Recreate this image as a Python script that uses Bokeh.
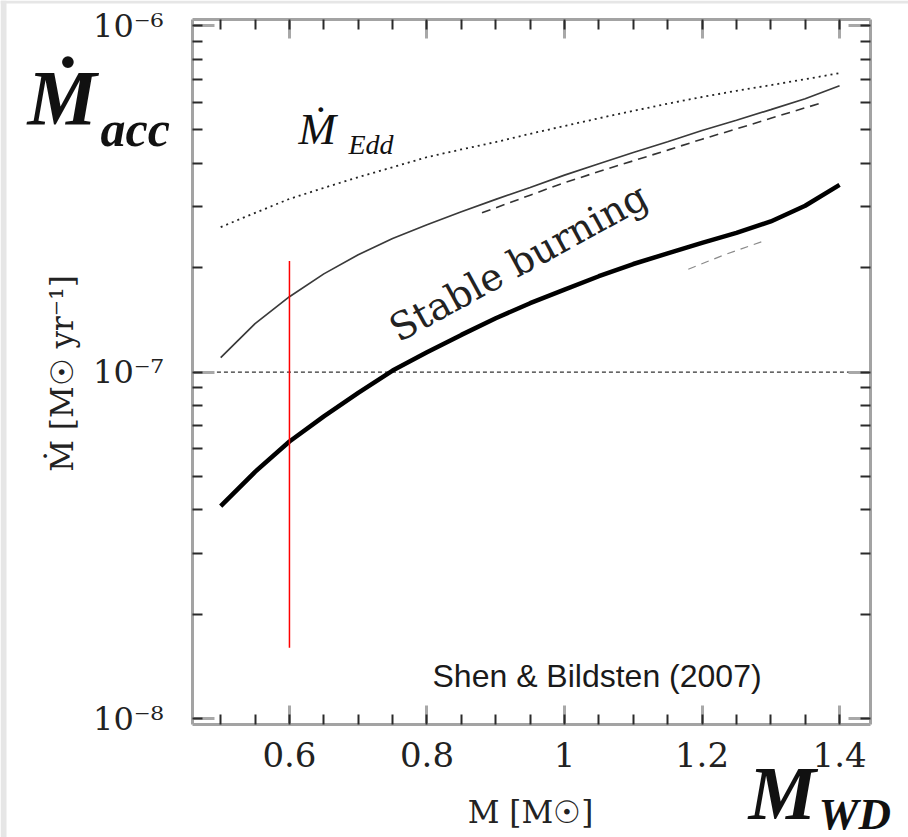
import math
from bokeh.plotting import figure
from bokeh.models import (LogAxis, LinearAxis, LogTicker, SingleIntervalTicker,
                          CustomJSTickFormatter, Label, Range1d, BoxAnnotation)
from bokeh.embed import file_html
from bokeh.resources import INLINE

# ---------------- data ----------------
mass = [0.50, 0.55, 0.60, 0.65, 0.70, 0.75, 0.80, 0.85, 0.90, 0.95,
        1.00, 1.05, 1.10, 1.15, 1.20, 1.25, 1.30, 1.35, 1.40]

# Eddington accretion rate (dotted)
mdot_edd = [2.62e-7, 2.88e-7, 3.16e-7, 3.40e-7, 3.65e-7, 3.90e-7, 4.17e-7, 4.39e-7,
            4.61e-7, 4.87e-7, 5.13e-7, 5.40e-7, 5.67e-7, 5.95e-7, 6.22e-7, 6.48e-7,
            6.73e-7, 7.00e-7, 7.29e-7]

# upper boundary of stable burning (thin solid)
mdot_upper = [1.10e-7, 1.38e-7, 1.65e-7, 1.92e-7, 2.18e-7, 2.43e-7, 2.66e-7, 2.90e-7,
              3.15e-7, 3.41e-7, 3.70e-7, 3.99e-7, 4.30e-7, 4.62e-7, 4.98e-7, 5.33e-7,
              5.72e-7, 6.15e-7, 6.70e-7]

# lower boundary of stable burning (thick solid)
mdot_lower = [0.41e-7, 0.515e-7, 0.63e-7, 0.745e-7, 0.87e-7, 1.01e-7, 1.14e-7, 1.28e-7,
              1.43e-7, 1.58e-7, 1.73e-7, 1.89e-7, 2.05e-7, 2.20e-7, 2.36e-7, 2.52e-7,
              2.72e-7, 3.02e-7, 3.47e-7]

# dashed curve just below the upper boundary
mass_dash = [0.88, 0.95, 1.00, 1.05, 1.10, 1.15, 1.20, 1.25, 1.30, 1.37]
mdot_dash = [2.88e-7, 3.24e-7, 3.52e-7, 3.79e-7, 4.07e-7, 4.37e-7, 4.70e-7, 5.03e-7,
             5.40e-7, 5.95e-7]

# faint dashed fragment below the thick curve
mass_faint = [1.18, 1.23, 1.29]
mdot_faint = [1.98e-7, 2.17e-7, 2.39e-7]

# red marker at M_WD = 0.6
mass_red = [0.6, 0.6]
mdot_red = [2.09e-7, 1.6e-8]

ref_rate = 1e-7

# axis box (data limits of the drawn frame)
x_lo, x_hi = 0.459, 1.445
y_lo, y_hi = 0.961e-8, 1.041e-6

# ---------------- canvas geometry ----------------
W, H = 908, 837
BOX_L, BOX_R, BOX_T, BOX_B = 192, 870, 19, 724   # where the box sits on the canvas
kx = (x_hi - x_lo) / (BOX_R - BOX_L)
ky = (math.log10(y_hi) - math.log10(y_lo)) / (BOX_B - BOX_T)
X0 = x_lo - BOX_L * kx
X1 = x_hi + (W - BOX_R) * kx
Y1 = 10 ** (math.log10(y_hi) + BOX_T * ky)
Y0 = 10 ** (math.log10(y_lo) - (H - BOX_B) * ky)


def at(px, py):
    """canvas pixel -> data coordinates (for text placement)"""
    return X0 + px * kx, 10 ** (math.log10(Y1) - py * ky)


p = figure(width=W, height=H, x_range=Range1d(X0, X1), y_range=Range1d(Y0, Y1),
           y_axis_type="log", x_axis_location=None, y_axis_location=None,
           output_backend="svg", toolbar_location=None, min_border=0)
p.xgrid.visible = False
p.ygrid.visible = False
p.outline_line_color = None
p.background_fill_color = "white"
p.border_fill_color = "white"

# light grey page edge seen on the left and top of the reference
p.add_layout(BoxAnnotation(left=X0, right=at(6, 0)[0], bottom=Y0, top=Y1,
                           fill_color="#e6e6e6", fill_alpha=1, line_color=None,
                           level="underlay"))
p.add_layout(BoxAnnotation(left=X0, right=X1, bottom=at(0, 3)[1], top=Y1,
                           fill_color="#e6e6e6", fill_alpha=1, line_color=None,
                           level="underlay"))

SUP_JS = r"""
const e = Math.round(Math.log10(tick));
const m = {"-": "\u207b", "0": "\u2070", "1": "\u00b9", "2": "\u00b2", "3": "\u00b3",
           "4": "\u2074", "5": "\u2075", "6": "\u2076", "7": "\u2077", "8": "\u2078", "9": "\u2079"};
return "10" + String(e).split("").map(c => m[c]).join("");
"""
X_JS = "return (Math.round(tick*10)/10).toString();"
EMPTY_JS = "return '';"


def style_axis(ax, major_len):
    ax.axis_line_color = "#a3a3a3"
    ax.axis_line_width = 3
    ax.major_tick_in = major_len
    ax.major_tick_out = 0
    ax.minor_tick_in = 10
    ax.minor_tick_out = 0
    ax.major_tick_line_color = "#a8a8a8"
    ax.major_tick_line_width = 3
    ax.minor_tick_line_color = "#2a2a2a"
    ax.minor_tick_line_width = 2


# left axis
yax = LogAxis(ticker=LogTicker(num_minor_ticks=10), formatter=CustomJSTickFormatter(code=SUP_JS),
              fixed_location=x_lo, bounds=(y_lo, y_hi))
style_axis(yax, 22)
yax.major_label_text_font = "DejaVu Serif"
yax.major_label_text_font_size = "32px"
yax.major_label_text_color = "#222222"
yax.major_label_standoff = 29
p.add_layout(yax, "left")

# right axis (ticks only)
rax = LogAxis(ticker=LogTicker(num_minor_ticks=10), formatter=CustomJSTickFormatter(code=EMPTY_JS),
              fixed_location=x_hi, bounds=(y_lo, y_hi), major_label_text_font_size="0px")
style_axis(rax, 22)
p.add_layout(rax, "right")

# bottom axis
xax = LinearAxis(ticker=SingleIntervalTicker(interval=0.2, num_minor_ticks=4),
                 formatter=CustomJSTickFormatter(code=X_JS),
                 fixed_location=y_lo, bounds=(x_lo, x_hi))
style_axis(xax, 19)
xax.major_label_text_font = "DejaVu Serif"
xax.major_label_text_font_size = "34px"
xax.major_label_text_color = "#222222"
xax.major_label_standoff = 17
p.add_layout(xax, "below")

# top axis (ticks only)
tax = LinearAxis(ticker=SingleIntervalTicker(interval=0.2, num_minor_ticks=4),
                 formatter=CustomJSTickFormatter(code=EMPTY_JS),
                 fixed_location=y_hi, bounds=(x_lo, x_hi), major_label_text_font_size="0px")
style_axis(tax, 19)
p.add_layout(tax, "above")

# ---------------- curves ----------------
p.line([x_lo + 0.005, x_hi - 0.005], [ref_rate, ref_rate], line_color="#333333",
       line_width=1.2, line_dash="4 3")

p.line(mass, mdot_edd, line_color="#222222", line_width=1.8, line_dash="2 4")
p.line(mass, mdot_upper, line_color="#3a3a3a", line_width=1.7)
p.line(mass_dash, mdot_dash, line_color="#333333", line_width=1.6, line_dash="9 6")
p.line(mass, mdot_lower, line_color="black", line_width=4.5)
p.line(mass_faint, mdot_faint, line_color="#8a8a8a", line_width=1.2, line_dash="8 6")
p.line(mass_red, mdot_red, line_color="red", line_width=1.5)


# ---------------- texts ----------------
def label(text, px, py, size, font="DejaVu Serif", style="normal", align="left",
          angle=0.0, color="#111111"):
    x, y = at(px, py)
    p.add_layout(Label(x=x, y=y, text=text, angle=angle, text_align=align,
                       text_baseline="middle", text_font=font, text_font_style=style,
                       text_font_size=size, text_color=color))


# axis titles
label("Ṁ [M☉ yr⁻¹]", 61, 373, "31px", align="center", angle=math.pi / 2, color="#222222")
label("M [M☉]", 530, 811, "31px", align="center", color="#222222")

# in-plot annotations
label("Stable burning", 518, 262, "38px", align="center", angle=0.50, color="#222222")
label("Ṁ", 298, 128, "45px", font="Liberation Serif", style="italic")
label("Edd", 348, 144, "28px", font="Liberation Serif", style="italic")
label("Shen & Bildsten (2007)", 432, 675, "32px", font="Liberation Sans", color="#1a1a1a")

# big slide labels
label("Ṁ", 27, 97, "78px", font="Liberation Serif", style="bold italic")
label("acc", 100, 128, "50px", font="Liberation Serif", style="bold italic")
label("M", 748, 792, "76px", font="Liberation Serif", style="bold italic")
label("WD", 818, 813, "45px", font="Liberation Serif", style="bold italic")

open("out.html", "w").write(file_html(p, INLINE))
